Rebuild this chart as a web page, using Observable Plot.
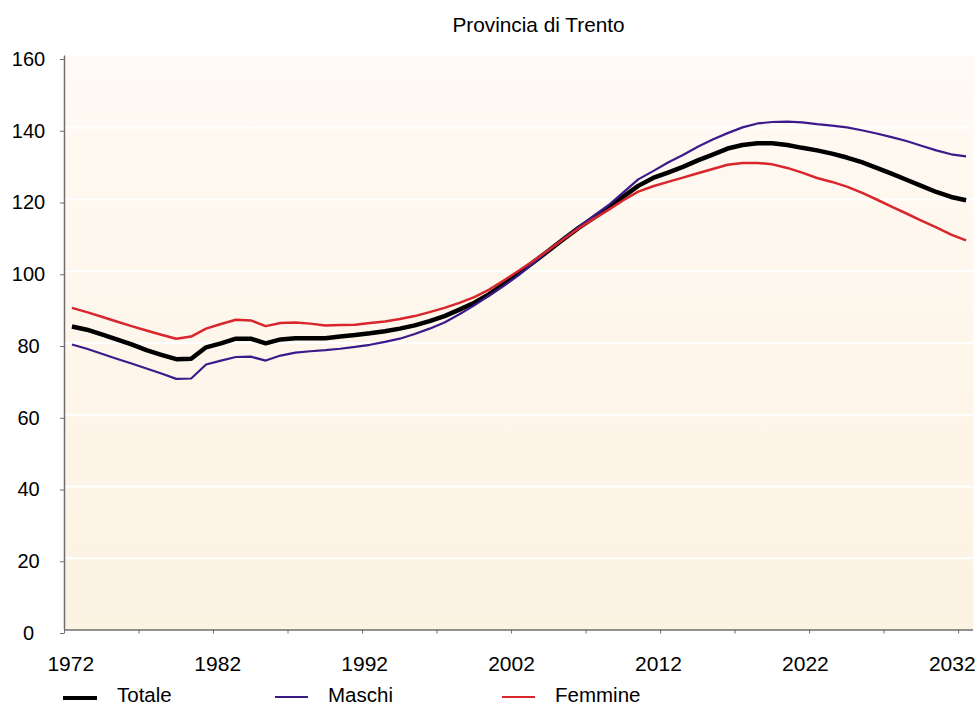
<!DOCTYPE html>
<html>
<head>
<meta charset="utf-8">
<script src="https://cdn.jsdelivr.net/npm/d3@7"></script>
<script src="https://cdn.jsdelivr.net/npm/@observablehq/plot@0.6"></script>
<style>
  html, body { margin: 0; padding: 0; background: #ffffff; }
  body { width: 980px; height: 708px; position: relative; overflow: hidden;
         font-family: "Liberation Sans", Arial, sans-serif; color: #000; }
  #title { position: absolute; top: 14.5px; left: 538.5px; transform: translateX(-50%);
           font-size: 20.8px; line-height: 20px; white-space: nowrap; }
  #chart { position: absolute; top: 40px; left: 0; }
  .lg-line { position: absolute; }
  .lg-text { position: absolute; top: 685.4px; font-size: 20.5px; line-height: 20px; white-space: nowrap; }
</style>
</head>
<body>
<div id="title">Provincia di Trento</div>
<div id="chart"></div>
<div class="lg-line" style="left:63px; width:34px; top:695.5px; height:4px; background:#000;"></div>
<div class="lg-text" style="left:117px;">Totale</div>
<div class="lg-line" style="left:275px; width:33px; top:695.7px; height:2px; background:#3c1a8c;"></div>
<div class="lg-text" style="left:328px;">Maschi</div>
<div class="lg-line" style="left:502px; width:33px; top:695.5px; height:2.5px; background:#d8262c;"></div>
<div class="lg-text" style="left:555px;">Femmine</div>
<script>
const years = d3.range(1972, 2033);

const totale = [
  84.6, 83.7, 82.4, 81.0, 79.6, 78.0, 76.7, 75.5, 75.6, 78.8,
  79.9, 81.2, 81.2, 79.9, 81.0, 81.3, 81.3, 81.3, 81.8, 82.2,
  82.7, 83.3, 84.0, 84.9, 86.1, 87.5, 89.3, 91.2, 93.6, 96.5,
  99.5, 102.6, 105.8, 109.0, 112.1, 114.9, 117.6, 120.8, 123.8, 126.0,
  127.5, 129.1, 130.9, 132.5, 134.2, 135.2, 135.7, 135.7, 135.2, 134.4,
  133.7, 132.8, 131.7, 130.4, 128.8, 127.2, 125.5, 123.8, 122.1, 120.7,
  119.8
];

const maschi = [
  79.6, 78.4, 77.0, 75.6, 74.3, 72.9, 71.5, 70.0, 70.1, 74.0,
  75.1, 76.1, 76.2, 75.1, 76.5, 77.3, 77.7, 78.0, 78.4, 78.9,
  79.5, 80.3, 81.2, 82.5, 84.0, 85.7, 88.0, 90.5, 93.2, 96.0,
  99.0, 102.4, 105.8, 109.1, 112.3, 115.4, 118.4, 122.0, 125.6, 127.9,
  130.3, 132.4, 134.7, 136.7, 138.5, 140.1, 141.2, 141.6, 141.7, 141.5,
  141.0, 140.6, 140.1, 139.3, 138.4, 137.4, 136.3, 135.0, 133.7, 132.6,
  132.0
];

const femmine = [
  89.8, 88.6, 87.3, 86.0, 84.7, 83.5, 82.3, 81.2, 81.8, 84.0,
  85.3, 86.5, 86.3, 84.7, 85.6, 85.7, 85.4, 84.9, 85.0, 85.1,
  85.6, 86.0, 86.7, 87.5, 88.6, 89.8, 91.2, 92.8, 94.9, 97.5,
  100.2, 103.0, 106.0, 109.0, 111.9, 114.6, 117.1, 119.8, 122.2, 123.7,
  124.9, 126.1, 127.3, 128.5, 129.7, 130.2, 130.2, 129.8, 128.8, 127.5,
  126.0, 124.9, 123.6, 121.9, 120.0, 118.0, 116.1, 114.1, 112.2, 110.2,
  108.6
];

const seriesNames = ["Totale", "Maschi", "Femmine"];
const seriesColors = ["#000000", "#3c1a8c", "#d8262c"];
const seriesWidths = [4.5, 2.2, 2.5];

const xTickYears = d3.range(1972, 2033, 5);
const xLabelYears = [1972, 1982, 1992, 2002, 2012, 2022, 2032];
const yTicks = [0, 20, 40, 60, 80, 100, 120, 140, 160];
const gridValues = [20, 40, 60, 80, 100, 120, 140];

const seriesValues = [totale, maschi, femmine];
const rows = seriesNames.flatMap((name, i) =>
  years.map((year, j) => ({series: name, year, value: seriesValues[i][j]})));

const lineMarks = seriesNames.map((name, i) =>
  Plot.line(rows.filter(d => d.series === name), {
    x: d => d.year + 0.5,
    y: "value",
    stroke: seriesColors[i],
    strokeWidth: seriesWidths[i],
    strokeLinejoin: "round",
    strokeLinecap: "butt"
  }));

const chart = Plot.plot({
  width: 980,
  height: 640,
  marginLeft: 64,
  marginRight: 7,
  marginTop: 15.5,
  marginBottom: 50.5,
  style: {fontFamily: "Liberation Sans, Arial, sans-serif", fontSize: "20px", color: "#000", background: "transparent"},
  x: {domain: [1972, 2033], axis: null},
  y: {domain: [0, 160], axis: null},
  marks: [
    Plot.frame({fill: "url(#bgGrad)", stroke: "none"}),
    Plot.ruleY(gridValues, {stroke: "#ffffff", strokeWidth: 2}),
    Plot.axisY(yTicks, {
      anchor: "left", tickSize: 4, tickPadding: 32, textAnchor: "middle",
      dy: 3.5, fontSize: 20, stroke: "#6e6e6e", fill: "#000", label: null
    }),
    Plot.axisX(xTickYears, {
      anchor: "bottom", tickSize: 4, tickFormat: () => "", stroke: "#6e6e6e", label: null
    }),
    Plot.text(xLabelYears, {
      x: d => d + (2002 - d) * 0.0141,
      y: 0,
      dy: 34,
      text: d => String(d),
      fontSize: 21,
      fill: "#000",
      textAnchor: "middle"
    }),
    Plot.ruleX([1972], {stroke: "#6e6e6e", strokeWidth: 1.5}),
    Plot.ruleY([0], {stroke: "#6e6e6e", strokeWidth: 1.5}),
    ...lineMarks
  ]
});

const svg = d3.select(chart);
const defs = svg.insert("defs", ":first-child");
const grad = defs.append("linearGradient")
  .attr("id", "bgGrad").attr("x1", 0).attr("y1", 0).attr("x2", 0).attr("y2", 1);
grad.append("stop").attr("offset", "0%").attr("stop-color", "#fffaf4");
grad.append("stop").attr("offset", "100%").attr("stop-color", "#fcf2e2");

document.getElementById("chart").appendChild(chart);
</script>
</body>
</html>
